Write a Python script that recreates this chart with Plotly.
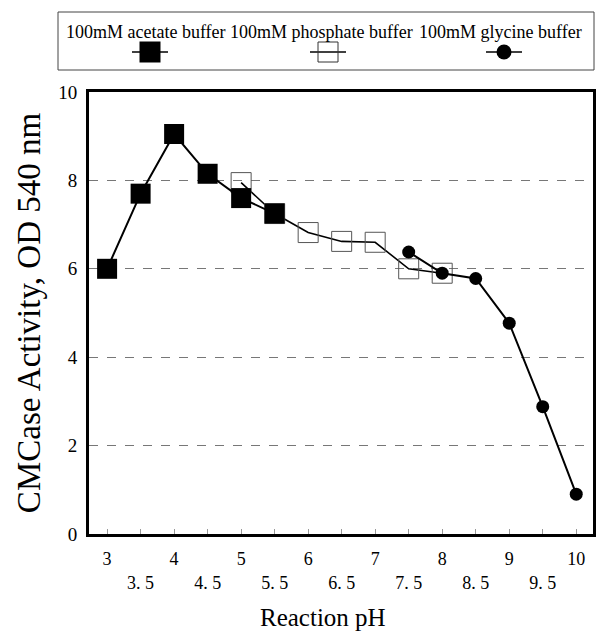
import plotly.graph_objects as go

# ---------------- data ----------------
SERIES_NAMES = ["100mM acetate buffer", "100mM phosphate buffer", "100mM glycine buffer"]

PH_ACETATE = [3, 3.5, 4, 4.5, 5, 5.5]
ACETATE = [6.0, 7.7, 9.05, 8.15, 7.6, 7.25]

PH_PHOSPHATE = [5, 5.5, 6, 6.5, 7, 7.5, 8]
PHOSPHATE = [7.95, 7.25, 6.82, 6.62, 6.6, 6.0, 5.9]

PH_GLYCINE = [7.5, 8, 8.5, 9, 9.5, 10]
GLYCINE = [6.38, 5.9, 5.78, 4.77, 2.88, 0.9]

X_MAJOR_VALS = [3, 4, 5, 6, 7, 8, 9, 10]
X_MAJOR_TEXT = ["3", "4", "5", "6", "7", "8", "9", "10"]
X_MINOR_VALS = [3.5, 4.5, 5.5, 6.5, 7.5, 8.5, 9.5]
X_MINOR_TEXT = ["3. 5", "4. 5", "5. 5", "6. 5", "7. 5", "8. 5", "9. 5"]
Y_TICK_VALS = [0, 2, 4, 6, 8, 10]

X_TITLE = "Reaction pH"
Y_TITLE = "CMCase Activity, OD 540 nm"

# ---------------- layout constants ----------------
W, H = 596, 631
ML, MR, MT, MB = 89, 3, 0, 97
PAPER_W = W - ML - MR
PAPER_H = H - MT - MB
PLOT_TOP_PX = 92
FONT = "Liberation Serif"

LEG_SYMBOL_X = [150, 328, 504]
LEG_TEXT_X = [146, 321, 500]
LEG_TEXT_Y = 32
LEG_SYMBOL_Y = 52
LEG_HALF = 18


def px_x(p):
    return (p - ML) / PAPER_W


def px_y(p):
    return (PAPER_H + MT - p) / PAPER_H


fig = go.Figure()

# data traces
fig.add_trace(go.Scatter(
    x=PH_PHOSPHATE, y=PHOSPHATE, mode="lines+markers", name=SERIES_NAMES[1],
    line=dict(color="black", width=1.6),
    marker=dict(symbol="square-open", size=20, color="#555", line=dict(width=1, color="#555")),
    showlegend=False))
fig.add_trace(go.Scatter(
    x=PH_ACETATE, y=ACETATE, mode="lines+markers", name=SERIES_NAMES[0],
    line=dict(color="black", width=2),
    marker=dict(symbol="square", size=20, color="black", line=dict(width=0)),
    showlegend=False))
fig.add_trace(go.Scatter(
    x=PH_GLYCINE, y=GLYCINE, mode="lines+markers", name=SERIES_NAMES[2],
    line=dict(color="black", width=2),
    marker=dict(symbol="circle", size=13, color="black", line=dict(width=0)),
    showlegend=False))
# registers the overlay axis for the second row of tick labels
fig.add_trace(go.Scatter(x=[], y=[], xaxis="x3", yaxis="y", showlegend=False, hoverinfo="skip"))

# custom legend (symbol below text)
leg_styles = [
    dict(symbol="square", size=21, color="black", line=dict(width=0)),
    dict(symbol="square-open", size=20, color="#333", line=dict(width=1, color="#333")),
    dict(symbol="circle", size=15, color="black", line=dict(width=0)),
]
for i, name in enumerate(SERIES_NAMES):
    cx = LEG_SYMBOL_X[i]
    fig.add_trace(go.Scatter(
        x=[cx - LEG_HALF, cx + LEG_HALF], y=[LEG_SYMBOL_Y] * 2,
        xaxis="x2", yaxis="y2", mode="lines",
        line=dict(color="black", width=1.5),
        showlegend=False, hoverinfo="skip"))
    fig.add_trace(go.Scatter(
        x=[cx], y=[LEG_SYMBOL_Y], xaxis="x2", yaxis="y2", mode="markers",
        marker=leg_styles[i], showlegend=False, hoverinfo="skip"))
    fig.add_annotation(x=px_x(LEG_TEXT_X[i]), y=px_y(LEG_TEXT_Y), xref="paper", yref="paper",
                       xanchor="center", yanchor="middle", text=name, showarrow=False,
                       font=dict(family=FONT, size=18, color="black"))

fig.add_annotation(x=px_x(323), y=px_y(617), xref="paper", yref="paper", text=X_TITLE,
                   xanchor="center", yanchor="middle", showarrow=False,
                   font=dict(family=FONT, size=25, color="black"))

fig.add_shape(type="rect", xref="paper", yref="paper",
              x0=px_x(58), x1=px_x(594), y0=px_y(70), y1=px_y(12),
              line=dict(color="#444", width=1))

XR = [2.73, 10.25]
fig.update_layout(
    width=W, height=H, margin=dict(l=ML, r=MR, t=MT, b=MB, autoexpand=False),
    paper_bgcolor="white", plot_bgcolor="rgba(0,0,0,0)",
    font=dict(family=FONT, color="black"),
    showlegend=False,
    xaxis=dict(domain=[0, 1], range=XR, tickmode="array", tickvals=X_MAJOR_VALS,
               ticktext=X_MAJOR_TEXT, tickfont=dict(size=18), showgrid=False, zeroline=False,
               showline=True, linewidth=3, linecolor="black", mirror=True,
               ticks="inside", ticklen=5, tickwidth=1, tickcolor="#999",
               ticklabelstandoff=6, anchor="y", automargin=False),
    xaxis3=dict(overlaying="x", anchor="y", side="bottom", range=XR, tickmode="array",
                tickvals=X_MINOR_VALS, ticktext=X_MINOR_TEXT, tickfont=dict(size=18),
                showgrid=False, zeroline=False, showline=False,
                ticks="inside", ticklen=5, tickwidth=1, tickcolor="#999",
                ticklabelstandoff=36, automargin=False),
    yaxis=dict(domain=[0, px_y(PLOT_TOP_PX)], range=[0, 10], tickmode="array",
               tickvals=Y_TICK_VALS, tickfont=dict(size=19), showgrid=True,
               gridcolor="#777", griddash="dash", gridwidth=1, zeroline=False,
               showline=True, linewidth=3, linecolor="black", mirror=True,
               ticks="", ticklabelstandoff=5, automargin=False,
               title=dict(text=Y_TITLE, font=dict(size=33), standoff=8)),
    xaxis2=dict(domain=[0, 1], range=[ML, W - MR], visible=False, anchor="y2",
                fixedrange=True, automargin=False),
    yaxis2=dict(domain=[0, 1], range=[PAPER_H + MT, MT], visible=False, anchor="x2",
                fixedrange=True, automargin=False),
)

fig.write_html("out.html")
